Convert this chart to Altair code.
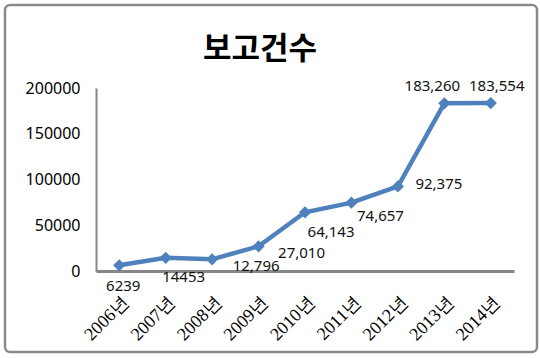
import altair as alt
import pandas as pd

years = ["2006년", "2007년", "2008년", "2009년", "2010년", "2011년", "2012년", "2013년", "2014년"]
counts = [6239, 14453, 12796, 27010, 64143, 74657, 92375, 183260, 183554]
labels = ["6239", "14453", "12,796", "27,010", "64,143", "74,657", "92,375", "183,260", "183,554"]
y_ticks = [0, 50000, 100000, 150000, 200000]
title_text = "보고건수"

# label offsets (dx, dy) relative to each point
offsets = [(4, 21), (18, 19), (44, 7), (43, 7), (26, 20), (29, 13), (41, -2), (-12, -17), (6, -17)]

df = pd.DataFrame({"year": years, "count": counts, "label": labels})

W, H = 418, 183
PL, PT, PR, PB = 96, 88, 26, 87
BLUE = "#4F81BD"

x_enc = alt.X("year:N", sort=years, scale=alt.Scale(type="point", padding=0.5),
              axis=alt.Axis(title=None, labelAngle=-45, labelFont="Liberation Serif",
                            labelFontSize=18, labelColor="#000", labelPadding=22,
                            ticks=False, domainColor="#868686", domainWidth=3, grid=False))
y_enc = alt.Y("count:Q", scale=alt.Scale(domain=[0, 200000], nice=False),
              axis=alt.Axis(title=None, values=y_ticks, format="d", labelFont="Noto Sans",
                            labelFontSize=16, labelColor="#000", labelPadding=16,
                            ticks=False, domainColor="#868686", domainWidth=2, grid=False))

base = alt.Chart(df)
line = base.mark_line(color=BLUE, strokeWidth=4.5).encode(x=x_enc, y=y_enc)
pts = base.mark_point(shape="diamond", filled=True, color=BLUE, size=150, opacity=1).encode(x=x_enc, y=y_enc)

texts = []
for yr, (dx, dy) in zip(years, offsets):
    texts.append(
        base.transform_filter(alt.datum.year == yr)
        .mark_text(font="Noto Sans", fontSize=15, color="#111", dx=dx, dy=dy, align="center", baseline="middle")
        .encode(x=x_enc, y=y_enc, text="label:N")
    )

one = alt.Data(values=[{"a": 1}])
title = alt.Chart(one).mark_text(font="Noto Sans CJK KR", fontWeight="bold", fontSize=31,
                                 color="#000", align="center", baseline="middle").encode(
    x=alt.value(164), y=alt.value(-38), text=alt.value(title_text))

border = alt.Chart(one).mark_rect(fill=None, fillOpacity=0, stroke="#8a8a8a", strokeWidth=2.5,
                                  cornerRadius=5, clip=False).encode(
    x=alt.value(-91), x2=alt.value(441), y=alt.value(-83), y2=alt.value(264))

chart = alt.layer(border, line, pts, *texts, title).properties(
    width=W, height=H,
    padding={"left": PL, "top": PT, "right": PR, "bottom": PB},
    autosize=alt.AutoSizeParams(type="none"),
    background="white",
).configure_view(stroke=None)

chart.save("out.html", embed_options={"renderer": "svg", "actions": False})
